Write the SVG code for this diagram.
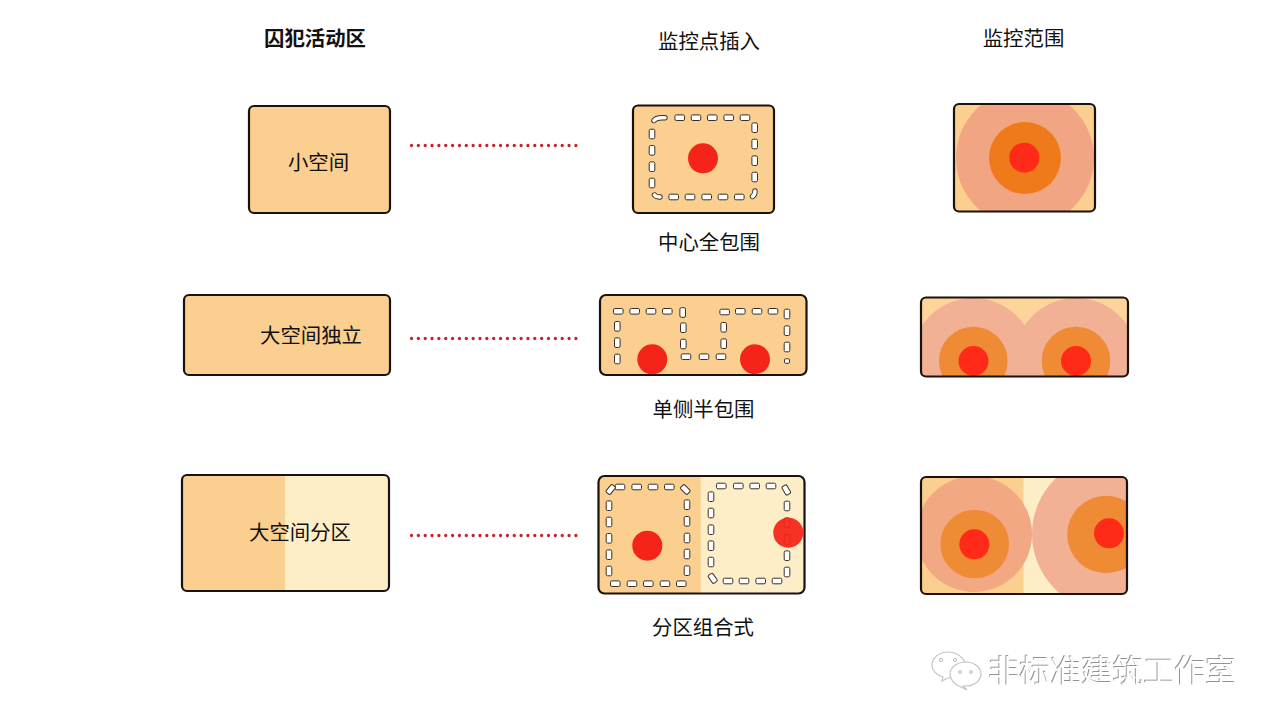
<svg xmlns="http://www.w3.org/2000/svg" width="1280" height="727" viewBox="0 0 1280 727">
<style>
text{font-family:"Noto Sans CJK SC","Noto Sans",sans-serif;font-size:20.4px;fill:#111;text-anchor:middle}
.b{stroke:#1a1210;stroke-width:2.2;fill:none}
.a{fill:#fbcf8f}.l{fill:#fdeec8}
.h{fill:#fff;stroke:#3a3028;stroke-width:1}
.p{fill:none;stroke:#3a3028;stroke-width:5.4;stroke-linecap:round}
.pi{fill:none;stroke:#fff;stroke-width:3.6;stroke-linecap:round}
.r{fill:#f42418}
.s1{fill:#f2a582}.s2{fill:#ef7a1a}.s3{fill:#ff2a18}
.t1{fill:#f2b095}.t2{fill:#ef8a35}
.dot{stroke:#c4242a;stroke-width:3.3;stroke-dasharray:0 6.85;stroke-linecap:round;fill:none}
.w{font-size:31px;fill:#fff;filter:url(#sh)}
.ic{fill:#fff;stroke:#c4c4c4;stroke-width:1.2}
</style>
<defs>
<symbol id="hh" overflow="visible"><rect class="h" x="-4.8" y="-2.8" width="9.600" height="5.600" rx="1.400"/></symbol>
<symbol id="vv" overflow="visible"><rect class="h" x="-2.8" y="-4.8" width="5.600" height="9.600" rx="1.400"/></symbol>
<filter id="sh" x="-5%" y="-20%" width="110%" height="140%"><feDropShadow dx="-.8" dy="-.8" stdDeviation=".5" flood-color="#777"/></filter>
<clipPath id="c1"><rect x="954" y="104" width="141" height="107.500" rx="5"/></clipPath>
<clipPath id="c2"><rect x="921" y="297.500" width="207" height="79" rx="5"/></clipPath>
<clipPath id="c3"><rect x="921" y="477" width="206" height="117" rx="5"/></clipPath>
</defs>

<g id="headers">
<text x="315" y="45.500" style="font-weight:700">囚犯活动区</text>
<text x="709" y="49">监控点插入</text>
<text x="1023.500" y="46">监控范围</text>
</g>

<g id="connectors">
<path class="dot" d="M411.500 145.500H580"/>
<path class="dot" d="M411.500 338.500H580"/>
<path class="dot" d="M411.500 535.500H580"/>
</g>

<g id="room-small">
<rect class="a" x="249" y="106" width="141" height="107" rx="5"/><rect class="b" x="249" y="106" width="141" height="107" rx="5"/>
<text x="318.500" y="170">小空间</text>
</g>
<g id="room-large">
<rect class="a" x="184" y="295" width="206" height="80" rx="5"/><rect class="b" x="184" y="295" width="206" height="80" rx="5"/>
<text x="311" y="343">大空间独立</text>
</g>
<g id="room-zoned">
<rect class="a" x="182" y="475" width="207" height="116" rx="5"/>
<path class="l" d="M285 475H384a5 5 0 0 1 5 5V586a5 5 0 0 1-5 5H285Z"/>
<rect class="b" x="182" y="475" width="207" height="116" rx="5"/>
<text x="300" y="540">大空间分区</text>
</g>

<g id="insert-center">
<rect class="a" x="633" y="105.500" width="141" height="107.500" rx="5"/><rect class="b" x="633" y="105.500" width="141" height="107.500" rx="5"/>
<path class="p" d="M654 120.500Q656 117.700 662 117.700H665"/><path class="pi" d="M654 120.500Q656 117.700 662 117.700H665"/>
<use href="#hh" x="679.700" y="117.700"/><use href="#hh" x="696" y="117.700"/><use href="#hh" x="712.300" y="117.700"/><use href="#hh" x="728.700" y="117.700"/><use href="#hh" x="745" y="117.700"/>
<use href="#vv" x="652" y="134"/><use href="#vv" x="652" y="150.300"/><use href="#vv" x="652" y="166.700"/><use href="#vv" x="652" y="183"/>
<use href="#vv" x="754.700" y="127.700"/><use href="#vv" x="754.700" y="144"/><use href="#vv" x="754.700" y="160.700"/><use href="#vv" x="754.700" y="177"/>
<path class="p" d="M755 191Q755 195 752.500 196.500"/><path class="pi" d="M755 191Q755 195 752.500 196.500"/>
<use href="#hh" x="673.700" y="197"/><use href="#hh" x="690" y="197"/><use href="#hh" x="706.700" y="197"/><use href="#hh" x="723" y="197"/><use href="#hh" x="739.300" y="197"/>
<path class="p" d="M654.500 195Q656 197 660 197"/><path class="pi" d="M654.500 195Q656 197 660 197"/>
<circle class="r" cx="703" cy="158.300" r="15"/>
<text x="709" y="250">中心全包围</text>
</g>

<g id="insert-side">
<rect class="a" x="600" y="295" width="206.500" height="80" rx="6"/><rect class="b" x="600" y="295" width="206.500" height="80" rx="6"/>
<use href="#hh" x="618.300" y="311.300"/><use href="#hh" x="634.700" y="311.300"/><use href="#hh" x="651" y="311.300"/><use href="#hh" x="667.300" y="311.300"/>
<use href="#vv" x="682.700" y="312.500"/><use href="#vv" x="683.300" y="327.700"/><use href="#vv" x="683.300" y="344"/>
<use href="#vv" x="617.300" y="326.300"/><use href="#vv" x="617.300" y="342.700"/><use href="#vv" x="617.300" y="359"/>
<use href="#hh" x="686" y="356.700"/><use href="#hh" x="704" y="356.700"/><use href="#hh" x="721" y="356.700"/>
<use href="#vv" x="723.700" y="327.300"/><use href="#vv" x="723.700" y="343.700"/>
<use href="#hh" x="724.700" y="312"/><use href="#hh" x="740.300" y="311.300"/><use href="#hh" x="757" y="311.300"/><use href="#hh" x="773" y="311.300"/>
<use href="#vv" x="787" y="314"/><use href="#vv" x="787" y="330.700"/><use href="#vv" x="787" y="347"/>
<rect class="h" x="784.500" y="358.800" width="5" height="4.500" rx="1"/>
<circle class="r" cx="652.300" cy="359.300" r="15"/><circle class="r" cx="755" cy="359.300" r="15"/>
<text x="703.500" y="417">单侧半包围</text>
</g>

<g id="insert-zoned">
<rect class="a" x="598.500" y="476" width="206" height="117.500" rx="6"/>
<path class="l" d="M700.700 476H798.500a6 6 0 0 1 6 6V587.500a6 6 0 0 1-6 6H700.700Z"/>
<rect class="b" x="598.500" y="476" width="206" height="117.500" rx="6"/>
<use href="#hh" x="620" y="487"/><use href="#hh" x="636.700" y="487"/><use href="#hh" x="653" y="487"/><use href="#hh" x="669.300" y="487"/>
<use href="#hh" transform="translate(610.700 489.500) rotate(-50)"/><use href="#hh" transform="translate(685.300 489.500) rotate(45)"/>
<use href="#vv" x="609" y="505.700"/><use href="#vv" x="609" y="522"/><use href="#vv" x="609" y="538.300"/><use href="#vv" x="609" y="554.700"/><use href="#vv" x="609" y="571"/>
<use href="#vv" x="687" y="504.700"/><use href="#vv" x="687" y="521.300"/><use href="#vv" x="687" y="538"/><use href="#vv" x="687" y="554"/><use href="#vv" x="687" y="570.700"/>
<use href="#hh" x="615.300" y="583.700"/><use href="#hh" x="632" y="583.700"/><use href="#hh" x="648.300" y="583.700"/><use href="#hh" x="665" y="583.700"/><use href="#hh" x="681.300" y="583.700"/>
<use href="#hh" x="721.300" y="486"/><use href="#hh" x="738.300" y="486"/><use href="#hh" x="754.700" y="486"/><use href="#hh" x="771" y="486"/>
<use href="#hh" transform="translate(786.300 490) rotate(60)"/><use href="#hh" transform="translate(712.700 578.300) rotate(55)"/>
<use href="#vv" x="711" y="496.700"/><use href="#vv" x="711" y="513"/><use href="#vv" x="711" y="529.700"/><use href="#vv" x="711" y="545.700"/><use href="#vv" x="711" y="562"/>
<use href="#hh" x="728" y="581"/><use href="#hh" x="744" y="581"/><use href="#hh" x="760.700" y="581"/><use href="#hh" x="777" y="581"/>
<use href="#vv" x="787" y="506"/><use href="#vv" x="787" y="522.700"/><use href="#vv" x="787" y="539.300"/><use href="#vv" x="787" y="555.700"/><use href="#vv" x="787" y="572"/>
<circle class="r" cx="647.300" cy="545.700" r="15"/><circle class="r" cx="788.300" cy="532.700" r="15" opacity=".93"/>
<text x="703" y="635">分区组合式</text>
</g>

<g id="range-center">
<rect x="954" y="104" width="141" height="107.500" rx="5" fill="#fbd08f"/>
<g clip-path="url(#c1)"><circle class="s1" cx="1025" cy="158" r="69"/></g>
<circle class="s2" cx="1025" cy="158" r="36"/><circle class="s3" cx="1024.300" cy="157.700" r="15"/>
<rect class="b" x="954" y="104" width="141" height="107.500" rx="5"/>
</g>

<g id="range-side">
<rect x="921" y="297.500" width="207" height="79" rx="5" fill="#fdd59a"/>
<g clip-path="url(#c2)">
<circle class="t1" cx="973.300" cy="360" r="62"/><circle class="t1" cx="1076" cy="360" r="62"/>
<circle class="t2" cx="973.300" cy="361" r="34.300"/><circle class="t2" cx="1076" cy="361" r="34.300"/>
<circle class="s3" cx="973.500" cy="361" r="15"/><circle class="s3" cx="1076" cy="361" r="15"/>
</g>
<rect class="b" x="921" y="297.500" width="207" height="79" rx="5"/>
</g>

<g id="range-zoned">
<rect x="921" y="477" width="206" height="117" rx="5" fill="#fbcf8f"/>
<path d="M1023.500 477H1122a5 5 0 0 1 5 5V589a5 5 0 0 1-5 5H1023.500Z" fill="#fdeec8"/>
<g clip-path="url(#c3)">
<circle cx="974" cy="534" r="58" fill="#f2a882"/><circle class="t1" cx="1109" cy="534" r="77"/>
<circle class="t2" cx="974.700" cy="544" r="34.300"/><circle class="t2" cx="1106" cy="534.500" r="38.800"/>
<circle class="s3" cx="974.300" cy="544.300" r="15"/><circle class="s3" cx="1109" cy="533.300" r="15"/>
</g>
<rect class="b" x="921" y="477" width="206" height="117" rx="5"/>
</g>

<g id="watermark">
<path class="ic" d="M948 652c9 0 17 6 17 13 0 7-8 13-17 13l-6 3 1-4c-7-2-11-7-11-12 0-7 7-13 16-13Z"/>
<path class="ic" d="M966 662c8 0 15 5.500 15 12s-7 12-15 12c-1 0-2 0-3 0l4 4-8-4c-5-2-9-7-9-12 0-6.500 7-12 16-12Z"/>
<circle cx="941" cy="660" r="1.600" fill="none" stroke="#bbb"/><circle cx="955" cy="660" r="1.600" fill="none" stroke="#bbb"/>
<circle cx="960" cy="672" r="1.400" fill="none" stroke="#bbb"/><circle cx="971" cy="672" r="1.400" fill="none" stroke="#bbb"/>
<text class="w" x="1112.500" y="682">非标准建筑工作室</text>
</g>
</svg>
